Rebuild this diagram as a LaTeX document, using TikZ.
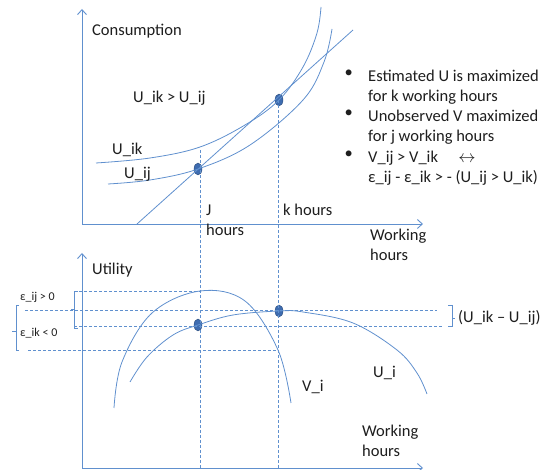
\documentclass[tikz,border=0pt]{standalone}
\usepackage{fontspec}
\setmainfont{Carlito}
\usepackage{tikz}
\usetikzlibrary{shapes.geometric, arrows.meta, positioning, calc}
\definecolor{lineblue}{RGB}{96,144,206}
\definecolor{dotblue}{RGB}{62,108,176}
\definecolor{textgray}{RGB}{30,30,30}

\begin{document}
\begin{tikzpicture}[x=1pt, y=-1pt,
    axis/.style={draw=lineblue, line width=0.9pt, -{Straight Barb[length=5pt, width=9pt]}},
    curve/.style={draw=lineblue, line width=0.8pt},
    guide/.style={draw=lineblue, line width=0.8pt, dash pattern=on 3pt off 2pt},
    brk/.style={draw=lineblue, line width=0.7pt},
    dot/.style={ellipse, draw=dotblue!70!black, fill=dotblue, minimum width=8pt, minimum height=12pt, inner sep=0pt},
    lbl/.style={font=\fontsize{16.5}{20}\selectfont, text=textgray, inner sep=0pt, anchor=west},
    small/.style={font=\fontsize{12}{14}\selectfont, text=textgray, inner sep=0pt, anchor=west}
]
\useasboundingbox (0,0) rectangle (547,470);

% Axes
\coordinate (o1) at (82,224);
\coordinate (o2) at (82,468);
\draw[axis] (o1) -- (82,9);
\draw[axis] (o1) -- (423,224);
\draw[axis] (o2) -- (82,253);
\draw[axis] (o2) -- (423,468);

% Points
\node[dot] (jtop) at (198,169) {};
\node[dot] (ktop) at (279,100) {};
\node[dot] (jbot) at (198,325) {};
\node[dot] (kbot) at (279,311) {};

% Guides
\coordinate (jg) at (200,150);
\coordinate (kg) at (278,100);
\draw[guide] (jg) -- (200,468);
\draw[guide] (kg) -- (278,468);
\draw[guide] (74,291) -- (200,291);
\draw[guide] (25,310) -- (437,310);
\draw[guide] (74,326) -- (442,326);
\draw[guide] (28,350) -- (278,350);

% Curves (top)
\draw[curve] (137,224) -- (353,30);
\draw[curve] plot[smooth, tension=0.6] coordinates {(108,184) (150,180) (198,169) (250,145) (303,100) (324,62) (332,29)};
\draw[curve] plot[smooth, tension=0.6] coordinates {(96,163) (150,158) (200,147) (245,125) (279,100) (303,67) (317,33) (321,7)};

% Curves (bottom)
\draw[curve] plot[smooth, tension=0.6] coordinates {(114,408) (122,362) (152,313) (200,291) (245,301) (278,350) (291,403)};
\draw[curve] plot[smooth, tension=0.6] coordinates {(130,382) (147,357) (173,335) (198,325) (233,315) (279,311) (303,312) (353,323) (397,350) (417,373) (427,394)};

% Brackets
\draw[brk] (78,291) -- (74,291) -- (74,328) -- (78,328) (74,309) -- (71,309);
\draw[brk] (19,305) -- (16,305) -- (16,350) -- (19,350) (16,331) -- (12,331);
\draw[brk] (448,305) -- (452,305) -- (452,326) -- (448,326) (452,318) -- (455,318);

% Labels
\node[lbl] (cons) at (92,31) {Consumption};
\node[lbl] (util) at (92,270) {Utility};
\node[lbl] (uikuij) at (133,98) {U\_ik > U\_ij};
\node[lbl] (uik) at (112,150) {U\_ik};
\node[lbl] (uij) at (124,174) {U\_ij};
\node[lbl] (jl) at (206,210) {J};
\node[lbl] (jh) at (206,230) {hours};
\node[lbl] (kh) at (283,210) {k hours};
\node[lbl, align=left, anchor=north west] (wh1) at (370,229) {Working\\hours};
\node[lbl, align=left, anchor=north west] (wh2) at (362,425) {Working\\hours};
\node[lbl] (vi) at (302,387) {V\_i};
\node[lbl] (ui) at (373,373) {U\_i};
\node[lbl] (diff) at (458,318) {(U\_ik -- U\_ij)};
\node[small] (eij) at (20,297) {ε\_ij > 0};
\node[small] (eik) at (20,333) {ε\_ik < 0};

% Bullets
\node[lbl, align=left, anchor=north west] (b1) at (368,70) {Estimated U is maximized\\for k working hours};
\node[lbl, align=left, anchor=north west] (b2) at (368,110) {Unobserved V maximized\\for j working hours};
\node[lbl, align=left, anchor=north west] (b3) at (368,151) {V\_ij > V\_ik \quad $\leftrightarrow$\\ε\_ij - ε\_ik > - (U\_ij > U\_ik)};
\foreach \b in {b1,b2,b3}
  \node[lbl, anchor=north east] at ($(\b.north west)+(-15,0)$) {•};

\end{tikzpicture}
\end{document}
